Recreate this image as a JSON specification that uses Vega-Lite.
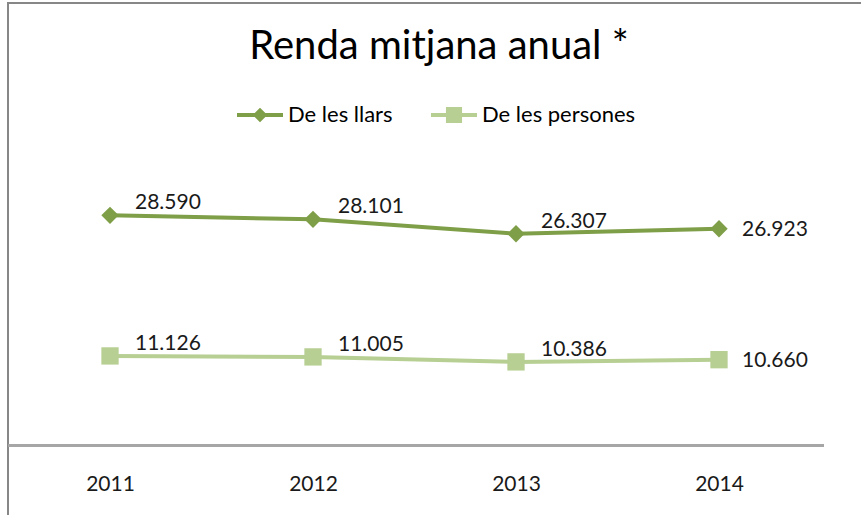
{
  "$schema": "https://vega.github.io/schema/vega-lite/v6.json",
  "width": 862,
  "height": 522,
  "autosize": {"type": "none"},
  "padding": {"left": 8, "top": 3, "right": 0, "bottom": 0},
  "background": "white",
  "config": {
    "locale": {"number": {"decimal": ",", "thousands": ".", "grouping": [3], "currency": ["", " €"]}},
    "view": {"stroke": "#878787", "strokeWidth": 2},
    "font": "Lato",
    "legend": {
      "orient": "none",
      "legendX": 229,
      "legendY": 89,
      "direction": "horizontal",
      "labelFont": "Lato",
      "labelFontSize": 22,
      "labelColor": "#000000",
      "symbolSize": 2116,
      "symbolStrokeWidth": 0,
      "labelOffset": 5,
      "columnPadding": 38,
      "padding": 0
    }
  },
  "title": {
    "text": "Renda mitjana anual *",
    "font": "Lato",
    "fontSize": 40,
    "fontWeight": "normal",
    "color": "#000000",
    "anchor": "middle",
    "frame": "group",
    "baseline": "alphabetic",
    "offset": 0,
    "dy": 96
  },
  "data": {
    "values": [
      {"year": 2011, "series": "De les llars", "value": 28590},
      {"year": 2012, "series": "De les llars", "value": 28101},
      {"year": 2013, "series": "De les llars", "value": 26307},
      {"year": 2014, "series": "De les llars", "value": 26923},
      {"year": 2011, "series": "De les persones", "value": 11126},
      {"year": 2012, "series": "De les persones", "value": 11005},
      {"year": 2013, "series": "De les persones", "value": 10386},
      {"year": 2014, "series": "De les persones", "value": 10660}
    ]
  },
  "encoding": {
    "x": {
      "field": "year",
      "type": "quantitative",
      "scale": {"domain": [2010.4975, 2014.7438], "nice": false, "zero": false},
      "axis": {
        "values": [2011, 2012, 2013, 2014],
        "format": "d",
        "domain": false,
        "ticks": false,
        "grid": false,
        "labelFont": "Lato",
        "labelFontSize": 21,
        "labelColor": "#1a1a1a",
        "labelPadding": 28,
        "offset": -79.5,
        "title": null
      }
    },
    "y": {
      "field": "value",
      "type": "quantitative",
      "scale": {"domain": [-9876, 54969], "nice": false, "zero": false},
      "axis": null
    }
  },
  "layer": [
    {
      "mark": {"type": "rule", "color": "#a6a6a6", "strokeWidth": 2},
      "encoding": {
        "x": {"datum": 2010.4975, "type": "quantitative"},
        "x2": {"datum": 2014.517},
        "y": {"datum": 0, "type": "quantitative"}
      }
    },
    {
      "mark": {"type": "line", "strokeWidth": 4},
      "encoding": {
        "color": {
          "field": "series",
          "type": "nominal",
          "scale": {"domain": ["De les llars", "De les persones"], "range": ["#7E9E47", "#B7CF93"]},
          "legend": {
            "title": null,
            "encode": {
              "symbols": {
                "update": {
                  "shape": {"signal": "datum.value === 'De les llars' ? 'M-1,-0.087L1,-0.087L1,0.087L-1,0.087Z M0,-0.32L0.32,0L0,0.32L-0.32,0Z' : 'M-1,-0.087L1,-0.087L1,0.087L-1,0.087Z M-0.35,-0.35L0.35,-0.35L0.35,0.35L-0.35,0.35Z'"},
                  "fill": {"scale": "color", "field": "value"},
                  "stroke": {"value": null},
                  "strokeWidth": {"value": 0},
                  "opacity": {"value": 1}
                }
              }
            }
          }
        }
      }
    },
    {
      "transform": [{"filter": "datum.series === 'De les llars'"}],
      "mark": {"type": "point", "filled": true, "size": 300, "opacity": 1, "shape": "diamond", "color": "#7E9E47"}
    },
    {
      "transform": [{"filter": "datum.series === 'De les persones'"}],
      "mark": {"type": "point", "filled": true, "size": 300, "opacity": 1, "shape": "square", "color": "#B7CF93"}
    },
    {
      "transform": [{"filter": "datum.year < 2014"}],
      "mark": {"type": "text", "align": "left", "baseline": "alphabetic", "dx": 25, "dy": -6, "font": "Lato", "fontSize": 21, "color": "#1a1a1a"},
      "encoding": {
        "text": {"field": "value", "type": "quantitative", "format": ",d"}
      }
    },
    {
      "transform": [{"filter": "datum.year == 2014"}],
      "mark": {"type": "text", "align": "left", "baseline": "middle", "dx": 23, "dy": 1, "font": "Lato", "fontSize": 21, "color": "#1a1a1a"},
      "encoding": {
        "text": {"field": "value", "type": "quantitative", "format": ",d"}
      }
    }
  ]
}
